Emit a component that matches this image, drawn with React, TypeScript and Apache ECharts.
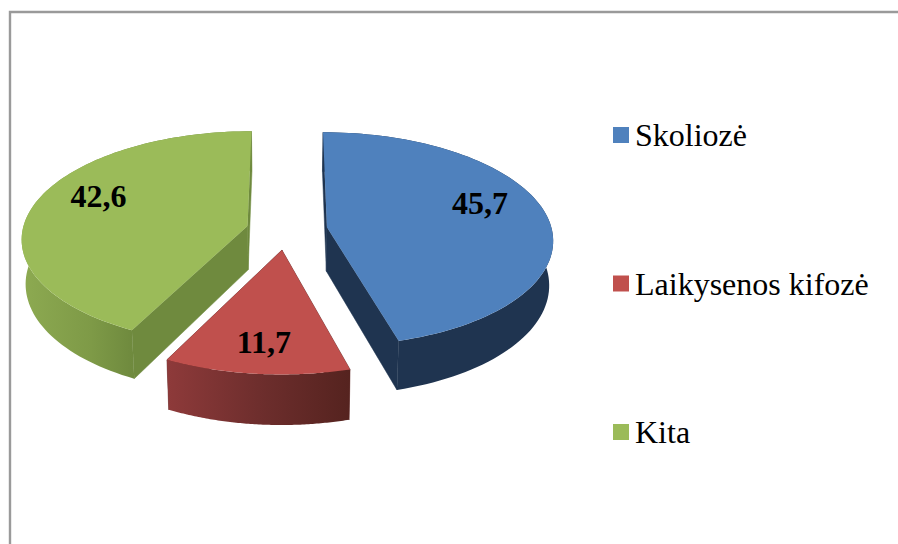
import React, { useEffect, useRef } from "react";
import * as echarts from "echarts";

const categories = ["Skoliozė", "Laikysenos kifozė", "Kita"];
const values = [45.7, 11.7, 42.6];
const topColors = ["#4F81BD", "#C0504D", "#9BBB59"];
const sideColors = ["#1F3450", "#5F2624", "#6F8A3E"];
const wallStops: [number, string][][] = [
  [[0, "#1F3450"], [1, "#1F3450"]],
  [[0, "#8E3A3A"], [0.5, "#6E2E2D"], [1, "#55231F"]],
  [[0, "#8DAA51"], [0.3, "#7E9A47"], [0.48, "#6F8A3E"], [1, "#6F8A3E"]],
];
// world-plane shift of each exploded slice, in radius units
const explodeU = [0.178, -0.022, -0.176];
const explodeV = [-0.026, 0.185, -0.038];
// label shift in pixels from the slice's apex
const labelDx = [153, -18, -149];
const labelDy = [-24, 92, -30];

const OX = 287, OY = 230, RX = 225, RY = 106, K = 0.11, DEPTH = 44, INSET = 0.985, START = 0;
const FONT = '"Liberation Serif", "Times New Roman", serif';

const total = values.reduce((a, b) => a + b, 0);

function project(u: number, v: number) {
  const w = 1 - K * v;
  return { x: OX + (RX * u) / w, y: OY + (RY * v) / w, h: DEPTH / w };
}
const top = (p: any) => [p.x, p.y];
const bottom = (p: any) => [OX + (p.x - OX) * INSET, p.y + p.h];

function renderSlice(index: number) {
  return (_: any, api: any) => {
    const value = api.value(0);
    const before = values.slice(0, index).reduce((a, b) => a + b, 0);
    const a0 = START + (before / total) * 360;
    const a1 = a0 + (value / total) * 360;
    const du = explodeU[index], dv = explodeV[index];
    const apex = project(du, dv);
    const rim: any[] = [];
    const N = 90;
    for (let i = 0; i <= N; i++) {
      const t = ((a0 + ((a1 - a0) * i) / N) * Math.PI) / 180;
      rim.push(project(du + Math.sin(t), dv - Math.cos(t)));
    }
    const side = sideColors[index];
    const face = (p: any) => ({
      type: "polygon",
      shape: { points: [top(apex), top(p), bottom(p), bottom(apex)] },
      style: { fill: side, stroke: side, lineWidth: 0.5 },
    });
    const wall = {
      type: "polygon",
      shape: { points: [...rim.map(top), ...rim.slice().reverse().map(bottom)] },
      style: { fill: new echarts.graphic.LinearGradient(0, 0, 1, 0, wallStops[index].map(([offset, color]) => ({ offset, color }))) },
    };
    const surface = {
      type: "polygon",
      shape: { points: [top(apex), ...rim.map(top)] },
      style: { fill: topColors[index] },
    };
    const label = {
      type: "text",
      x: apex.x + labelDx[index],
      y: apex.y + labelDy[index],
      style: {
        text: String(value).replace(".", ","),
        fontFamily: FONT,
        fontWeight: "bold",
        fontSize: 32,
        fill: "#000",
        align: "center",
        verticalAlign: "middle",
      },
    };
    return { type: "group", children: [face(rim[0]), face(rim[N]), wall, surface, label] };
  };
}

export default function App() {
  const ref = useRef<HTMLDivElement>(null);
  useEffect(() => {
    const chart = echarts.init(ref.current!, null, { renderer: "svg" });
    chart.setOption({
      animation: false,
      backgroundColor: "#fff",
      legend: {
        orient: "vertical",
        left: 608,
        top: 114,
        icon: "rect",
        itemWidth: 16,
        itemHeight: 16,
        itemGap: 116.5,
        selectedMode: false,
        data: categories,
        textStyle: { fontFamily: FONT, fontSize: 32, color: "#000", padding: [0, 0, 0, 1], lineHeight: 30 },
      },
      graphic: [
        {
          type: "polyline",
          silent: true,
          shape: { points: [[10, 544], [10, 12], [898, 12]] },
          style: { fill: "none", stroke: "#9a9a9a", lineWidth: 2.4 },
        },
      ],
      series: categories.map((name, i) => ({
        type: "custom",
        name,
        coordinateSystem: "none",
        silent: true,
        itemStyle: { color: topColors[i] },
        data: [[values[i]]],
        renderItem: renderSlice(i),
      })),
    });
    return () => chart.dispose();
  }, []);
  return <div ref={ref} style={{ position: "fixed", left: 0, top: 0, width: 898, height: 544 }} />;
}
